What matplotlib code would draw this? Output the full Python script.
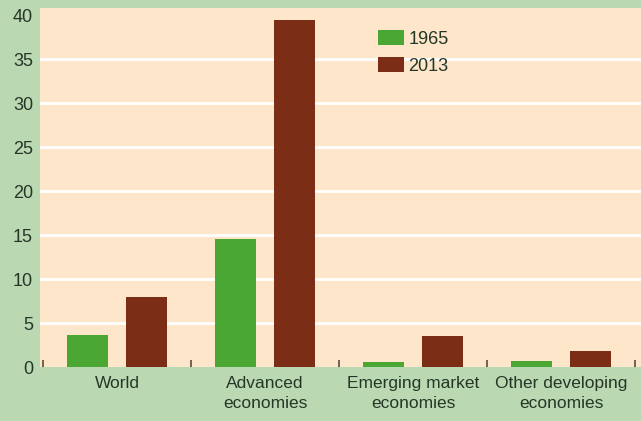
import numpy as np
import matplotlib.pyplot as plt

categories = ["World", "Advanced\neconomies", "Emerging market\neconomies", "Other developing\neconomies"]
series_names = ["1965", "2013"]
values_1965 = [3.6, 14.6, 0.6, 0.7]
values_2013 = [8.0, 39.4, 3.5, 1.8]
y_ticks = [0, 5, 10, 15, 20, 25, 30, 35, 40]

plt.rcParams['font.family'] = ['Liberation Sans', 'DejaVu Sans']

green = "#4ba733"
brown = "#7b2d15"
text_col = "#263626"

fig = plt.figure(figsize=(6.41, 4.21), dpi=100, facecolor="#bad9b3")
ax = fig.add_axes([40 / 641, 1 - 367 / 421, 601 / 641, 359 / 421])
ax.set_facecolor("#fde6c9")

x = np.arange(len(categories))
w = 0.277
ax.bar(x - 0.2, values_1965, w, color=green, label=series_names[0], zorder=3)
ax.bar(x + 0.2, values_2013, w, color=brown, label=series_names[1], zorder=3)

ax.set_xlim(-0.52, 3.54)
ax.set_ylim(0, 40.8)

for v in y_ticks[1:-1]:
    ax.axhline(v, color="white", lw=2.0, zorder=1)

ax.set_yticks(y_ticks)
ax.set_yticklabels([str(v) for v in y_ticks], fontsize=13, color=text_col)
ax.tick_params(axis="y", length=0, pad=5)

# small marks between groups
ax.set_xticks(np.arange(-0.5, len(categories), 1.0))
ax.set_xticklabels([])
ax.tick_params(axis="x", direction="in", length=5, width=1.2, color="#5a4a3a")
for i, c in enumerate(categories):
    ax.text(i, -1.0, c, ha="center", va="top", fontsize=12.5, color=text_col,
            linespacing=1.45)

for s in ax.spines.values():
    s.set_visible(False)

ax.legend(loc="upper left", bbox_to_anchor=(0.535, 0.985), frameon=False,
          fontsize=13, handlelength=1.45, handleheight=0.95, labelspacing=0.5,
          handletextpad=0.25, labelcolor=text_col)

fig.savefig("out.png", dpi=100, facecolor=fig.get_facecolor())
